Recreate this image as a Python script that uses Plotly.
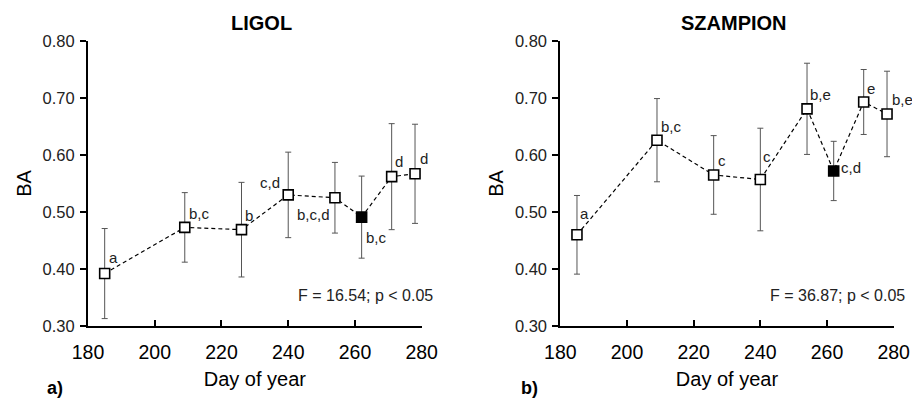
import plotly.graph_objects as go

# ---------------- data ----------------
days = [185, 209, 226, 240, 254, 262, 271, 278]

ligol_ba = [0.392, 0.473, 0.469, 0.530, 0.525, 0.491, 0.562, 0.567]
ligol_sd = [0.079, 0.061, 0.083, 0.075, 0.062, 0.072, 0.093, 0.087]
ligol_letters = ["a", "b,c", "b", "c,d", "b,c,d", "b,c", "d", "d"]

szampion_ba = [0.460, 0.626, 0.565, 0.557, 0.681, 0.572, 0.693, 0.672]
szampion_sd = [0.069, 0.073, 0.069, 0.090, 0.080, 0.052, 0.057, 0.075]
szampion_letters = ["a", "b,c", "c", "c", "b,e", "c,d", "e", "b,e"]

filled = [False, False, False, False, False, True, False, False]

titles = ["LIGOL", "SZAMPION"]
stats_text = ["F = 16.54; p < 0.05", "F = 36.87; p < 0.05"]
panel_tags = ["a)", "b)"]
x_ticks = [180, 200, 220, 240, 260, 280]
y_ticks = [0.30, 0.40, 0.50, 0.60, 0.70, 0.80]

# ---------------- style ----------------
FONT = "Liberation Sans, Arial, sans-serif"
W, H = 912, 401
# label offsets (xanchor, xshift, yshift) per point
ligol_off = [("left", 2, 16), ("left", 2, 14), ("left", 1, 14), ("right", -6, 12),
             ("right", -3, -17), ("left", 2, -20), ("left", 1, 15), ("left", 3, 15)]
szamp_off = [("left", 1, 21), ("left", 2, 14), ("left", 2, 14), ("left", 1, 23),
             ("left", 1, 14), ("left", 5, 3), ("left", 1, 13), ("left", 3, 14)]

fig = go.Figure()

panels = [
    (ligol_ba, ligol_sd, ligol_letters, ligol_off, "x", "y"),
    (szampion_ba, szampion_sd, szampion_letters, szamp_off, "x2", "y2"),
]

for (vals, sd, letters, offs, xa, ya) in panels:
    fig.add_trace(go.Scatter(
        x=days, y=vals, xaxis=xa, yaxis=ya, mode="lines+markers",
        line=dict(color="black", width=1.2, dash="4px,3px"),
        marker=dict(symbol="square", size=10,
                    color=["black" if f else "white" for f in filled],
                    line=dict(color="black", width=1.6)),
        error_y=dict(type="data", array=sd, visible=True,
                     color="#555555", thickness=1, width=3),
        showlegend=False, cliponaxis=False, hoverinfo="skip",
    ))

annotations = []
for (vals, sd, letters, offs, xa, ya) in panels:
    for d, v, lab, (anc, xs, ys) in zip(days, vals, letters, offs):
        annotations.append(dict(
            x=d, y=v, xref=xa, yref=ya, text=lab, showarrow=False,
            xanchor=anc, yanchor="middle", xshift=xs, yshift=ys,
            font=dict(family=FONT, size=15, color="#222222")))

for i, (xa, ya) in enumerate([("x", "y"), ("x2", "y2")]):
    annotations.append(dict(x=230, y=0.80, xref=xa, yref=ya, text="<b>%s</b>" % titles[i],
                            showarrow=False, xanchor="center", yanchor="middle",
                            xshift=7, yshift=18, font=dict(family=FONT, size=20, color="black")))
    annotations.append(dict(x=280, y=0.354, xref=xa, yref=ya, text=stats_text[i],
                            showarrow=False, xanchor="right", yanchor="middle",
                            xshift=13, font=dict(family=FONT, size=16, color="#222222")))

annotations.append(dict(x=45 / W, y=1 - 388 / H, xref="paper", yref="paper",
                        text="<b>a)</b>", showarrow=False, xanchor="left", yanchor="middle",
                        font=dict(family=FONT, size=18, color="black")))
annotations.append(dict(x=519 / W, y=1 - 388 / H, xref="paper", yref="paper",
                        text="<b>b)</b>", showarrow=False, xanchor="left", yanchor="middle",
                        font=dict(family=FONT, size=18, color="black")))

xaxis_common = dict(range=[180, 280], tickvals=x_ticks, ticks="inside", ticklen=6,
                    tickwidth=2, tickcolor="black", showline=True, linecolor="black",
                    linewidth=2, showgrid=False, zeroline=False, automargin=False,
                    ticklabelstandoff=8,
                    tickfont=dict(family=FONT, size=19.5, color="black"),
                    title=dict(text="Day of year", font=dict(family=FONT, size=20, color="black"),
                               standoff=10))
yaxis_common = dict(range=[0.30, 0.80], tickvals=y_ticks, tickformat=".2f", ticks="outside",
                    ticklen=6, tickwidth=2, tickcolor="black", showline=True,
                    linecolor="black", linewidth=2, showgrid=False, zeroline=False,
                    automargin=False, ticklabelstandoff=2,
                    tickfont=dict(family=FONT, size=16.5, color="#222222"),
                    title=dict(text="BA", font=dict(family=FONT, size=20, color="black"),
                               standoff=6))

ydom = [1 - 326 / H, 1 - 41 / H]
fig.update_layout(
    width=W, height=H,
    margin=dict(l=0, r=0, t=0, b=0),
    paper_bgcolor="white", plot_bgcolor="white",
    hovermode=False,
    xaxis=dict(domain=[88 / W, 421.7 / W], anchor="y", **xaxis_common),
    yaxis=dict(domain=ydom, anchor="x", **yaxis_common),
    xaxis2=dict(domain=[560.3 / W, 893.7 / W], anchor="y2", **xaxis_common),
    yaxis2=dict(domain=ydom, anchor="x2", **yaxis_common),
    annotations=annotations,
)

fig.write_html("out.html",
               config={"displayModeBar": False},
               post_script="document.body.style.margin='0';"
                           "document.body.style.overflow='hidden';")
